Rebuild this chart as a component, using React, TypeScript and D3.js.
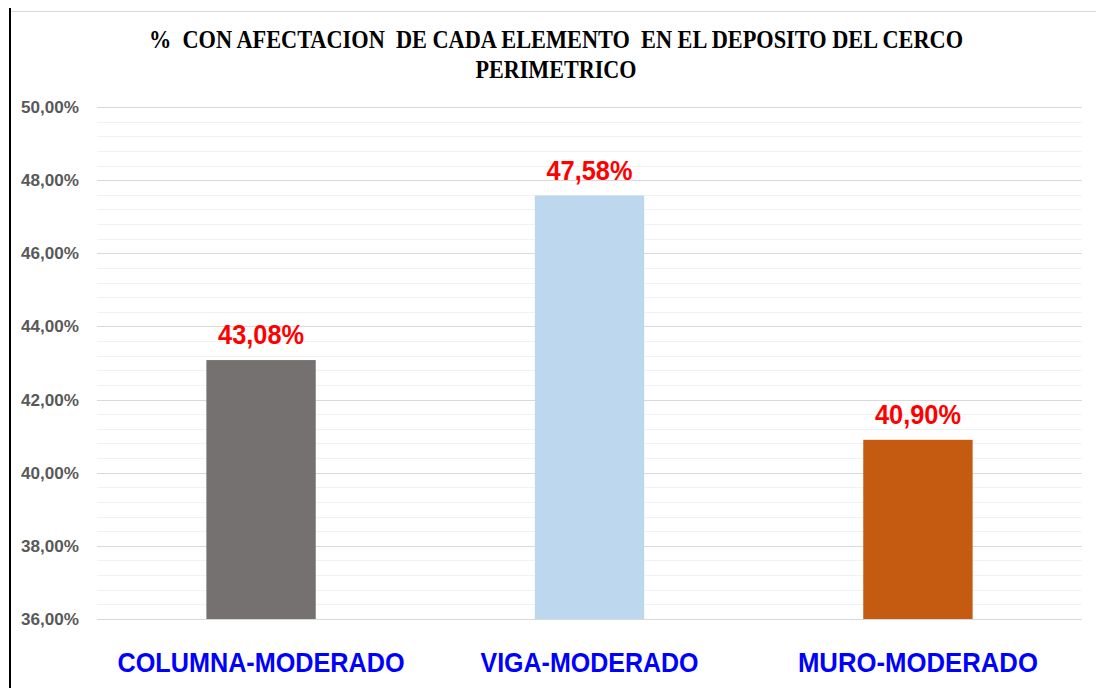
import { useEffect, useRef } from "react";
import * as d3 from "d3";

// chart data
const categories = ["COLUMNA-MODERADO", "VIGA-MODERADO", "MURO-MODERADO"];
const values = [43.08, 47.58, 40.9];
const barColors = ["#767171", "#BDD7EE", "#C55A11"];
const yTicks = [36, 38, 40, 42, 44, 46, 48, 50];
const titleLines = [
  "%  CON AFECTACION  DE CADA ELEMENTO  EN EL DEPOSITO DEL CERCO",
  "PERIMETRICO",
];

const fmt = (v: number) => v.toFixed(2).replace(".", ",") + "%";

export default function App() {
  const ref = useRef<SVGSVGElement | null>(null);

  useEffect(() => {
    const width = 1096;
    const height = 688;
    const margin = { top: 107, right: 14, bottom: 69, left: 97 };
    const innerW = width - margin.left - margin.right;
    const innerH = height - margin.top - margin.bottom;

    const svg = d3.select(ref.current);
    svg.selectAll("*").remove();

    // frame lines
    svg
      .append("line")
      .attr("x1", 10)
      .attr("x2", width)
      .attr("y1", 11.5)
      .attr("y2", 11.5)
      .attr("stroke", "#d9d9d9")
      .attr("stroke-width", 1);
    svg
      .append("line")
      .attr("x1", 10)
      .attr("x2", 10)
      .attr("y1", 8)
      .attr("y2", height)
      .attr("stroke", "#000")
      .attr("stroke-width", 2);

    // title
    svg
      .append("g")
      .selectAll("text")
      .data(titleLines)
      .enter()
      .append("text")
      .attr("x", 556)
      .attr("y", (d, i) => 48 + i * 30)
      .attr("text-anchor", "middle")
      .attr("textLength", (d, i) => (i === 0 ? 814 : 161))
      .attr("lengthAdjust", "spacingAndGlyphs")
      .style("font-family", "'Liberation Serif', 'Times New Roman', serif")
      .style("font-weight", "bold")
      .style("font-size", "25px")
      .style("white-space", "pre")
      .attr("fill", "#000")
      .text((d) => d);

    const g = svg
      .append("g")
      .attr("transform", "translate(" + margin.left + "," + margin.top + ")");

    const x = d3
      .scaleBand()
      .domain(categories)
      .range([0, innerW])
      .paddingInner(0.667)
      .paddingOuter(0.333);
    const y = d3.scaleLinear().domain([36, 50]).range([innerH, 0]);

    // minor gridlines (0,4% steps)
    const minor = d3.range(36, 50.001, 0.4).filter((v) => Math.abs(v / 2 - Math.round(v / 2)) > 0.01);
    g.selectAll(".minor")
      .data(minor)
      .enter()
      .append("line")
      .attr("x1", 0)
      .attr("x2", innerW)
      .attr("y1", (d) => Math.round(y(d)) + 0.5)
      .attr("y2", (d) => Math.round(y(d)) + 0.5)
      .attr("stroke", "#f2f2f2");

    // major gridlines
    g.selectAll(".major")
      .data(yTicks)
      .enter()
      .append("line")
      .attr("x1", 0)
      .attr("x2", innerW)
      .attr("y1", (d) => Math.round(y(d)) + 0.5)
      .attr("y2", (d) => Math.round(y(d)) + 0.5)
      .attr("stroke", "#d9d9d9");

    // y labels
    g.selectAll(".ylab")
      .data(yTicks)
      .enter()
      .append("text")
      .attr("x", -18)
      .attr("y", (d) => y(d) + 6)
      .attr("text-anchor", "end")
      .attr("fill", "#595959")
      .attr("textLength", 58)
      .attr("lengthAdjust", "spacingAndGlyphs")
      .style("font-family", "'Liberation Sans', Arial, sans-serif")
      .style("font-weight", "bold")
      .style("font-size", "17px")
      .text((d) => fmt(d));

    // bars
    g.selectAll(".bar")
      .data(values)
      .enter()
      .append("rect")
      .attr("x", (d, i) => x(categories[i]) as number)
      .attr("y", (d) => y(d))
      .attr("width", x.bandwidth())
      .attr("height", (d) => innerH - y(d))
      .attr("fill", (d, i) => barColors[i]);

    // value labels
    g.selectAll(".val")
      .data(values)
      .enter()
      .append("text")
      .attr("x", (d, i) => (x(categories[i]) as number) + x.bandwidth() / 2)
      .attr("y", (d) => y(d) - 16)
      .attr("text-anchor", "middle")
      .attr("fill", "#ff0000")
      .attr("textLength", 86)
      .attr("lengthAdjust", "spacingAndGlyphs")
      .style("font-family", "'Liberation Sans', Arial, sans-serif")
      .style("font-weight", "bold")
      .style("font-size", "28px")
      .text((d) => fmt(d));

    // category labels
    const catWidths = [287, 218, 240];
    g.selectAll(".cat")
      .data(categories)
      .enter()
      .append("text")
      .attr("x", (d) => (x(d) as number) + x.bandwidth() / 2)
      .attr("y", innerH + 53)
      .attr("text-anchor", "middle")
      .attr("fill", "#0000ff")
      .attr("textLength", (d, i) => catWidths[i])
      .attr("lengthAdjust", "spacingAndGlyphs")
      .style("font-family", "'Liberation Sans', Arial, sans-serif")
      .style("font-weight", "bold")
      .style("font-size", "28px")
      .text((d) => d);
  }, []);

  return (
    <svg
      ref={ref}
      width={1096}
      height={688}
      style={{ position: "absolute", left: 0, top: 0, background: "#fff" }}
    />
  );
}
